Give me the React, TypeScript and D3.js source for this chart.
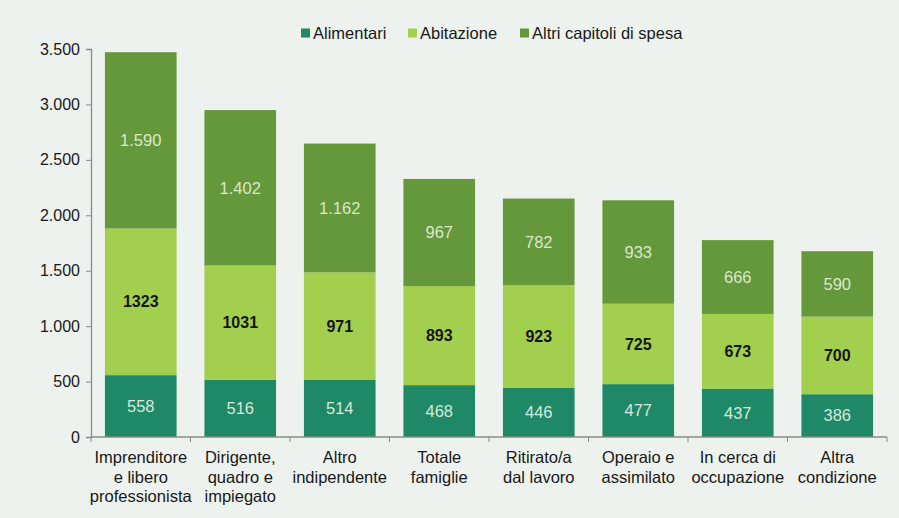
import React, { useEffect, useRef } from "react";
import { select, scaleBand, scaleLinear, stack, axisLeft, format } from "d3";

// categories (x) and series values
const categories = [
  ["Imprenditore", "e libero", "professionista"],
  ["Dirigente,", "quadro e", "impiegato"],
  ["Altro", "indipendente"],
  ["Totale", "famiglie"],
  ["Ritirato/a", "dal lavoro"],
  ["Operaio e", "assimilato"],
  ["In cerca di", "occupazione"],
  ["Altra", "condizione"],
];
const alimentari = [558, 516, 514, 468, 446, 477, 437, 386];
const abitazione = [1323, 1031, 971, 893, 923, 725, 673, 700];
const altri = [1590, 1402, 1162, 967, 782, 933, 666, 590];
const seriesNames = ["Alimentari", "Abitazione", "Altri capitoli di spesa"];
const yTicks = [0, 500, 1000, 1500, 2000, 2500, 3000, 3500];

const colors = ["#1f8866", "#a3cf4e", "#65983a"];
const labelColors = ["#d6e9dc", "#151515", "#dbe7cc"];
const labelWeights = ["normal", "bold", "normal"];
// the chart prints thousands with a dot, but Abitazione values without
const itFmt = (v: number) => format(",.0f")(v).replace(/,/g, ".");
const labelFormats = [itFmt, (v: number) => String(v), itFmt];

const W = 899;
const H = 518;
const FONT = "'Liberation Sans', Arial, sans-serif";

export default function App() {
  const svgRef = useRef<SVGSVGElement>(null);

  useEffect(() => {
    const svg = select(svgRef.current);
    svg.selectAll("*").remove();

    svg.append("rect").attr("width", W).attr("height", H).attr("fill", "#edf2ee");

    const keys = categories.map((c) => c.join(" "));
    const rows = keys.map((k, i) => ({
      key: k,
      a: alimentari[i],
      b: abitazione[i],
      c: altri[i],
    }));

    const x = scaleBand<string>()
      .domain(keys)
      .range([91, 887])
      .paddingInner(0.28)
      .paddingOuter(0.14);
    const y = scaleLinear().domain([0, 3500]).range([437, 49]);

    const layers = stack<any>().keys(["a", "b", "c"])(rows);

    const g = svg.append("g");
    layers.forEach((layer, li) => {
      g.append("g")
        .selectAll("rect")
        .data(layer)
        .join("rect")
        .attr("x", (d: any) => x(d.data.key)!)
        .attr("width", x.bandwidth())
        .attr("y", (d) => y(d[1]))
        .attr("height", (d) => y(d[0]) - y(d[1]))
        .attr("fill", colors[li]);

      g.append("g")
        .selectAll("text")
        .data(layer)
        .join("text")
        .attr("x", (d: any) => x(d.data.key)! + x.bandwidth() / 2)
        .attr("y", (d) => (y(d[0]) + y(d[1])) / 2)
        .attr("dy", "0.35em")
        .attr("text-anchor", "middle")
        .attr("font-family", FONT)
        .attr("font-size", li === 1 ? 16 : 16.5)
        .attr("font-weight", labelWeights[li])
        .attr("fill", labelColors[li])
        .text((d) => labelFormats[li](d[1] - d[0]));
    });

    // y axis
    const yAxis = axisLeft(y)
      .tickValues(yTicks)
      .tickSize(5)
      .tickPadding(6)
      .tickFormat((v) => itFmt(v as number));
    const ya = svg.append("g").attr("transform", "translate(91,0)").call(yAxis);
    ya.select(".domain").attr("stroke", "#878c87").attr("stroke-width", 1.3);
    ya.selectAll(".tick line").attr("stroke", "#878c87");
    ya.selectAll(".tick text")
      .attr("font-family", FONT)
      .attr("font-size", 16)
      .attr("fill", "#181818");

    // x axis line and boundary ticks
    const step = x.step();
    const xa = svg.append("g");
    xa.append("line")
      .attr("x1", 91)
      .attr("x2", 887)
      .attr("y1", y(0))
      .attr("y2", y(0))
      .attr("stroke", "#878c87")
      .attr("stroke-width", 1.3);
    xa.selectAll("line.tk")
      .data(keys.map((_, i) => i).concat([keys.length]))
      .join("line")
      .attr("class", "tk")
      .attr("x1", (i) => 91 + i * step)
      .attr("x2", (i) => 91 + i * step)
      .attr("y1", y(0))
      .attr("y2", y(0) + 5)
      .attr("stroke", "#878c87");

    const lbl = xa
      .selectAll("text.cat")
      .data(categories)
      .join("text")
      .attr("class", "cat")
      .attr("text-anchor", "middle")
      .attr("font-family", FONT)
      .attr("font-size", 16.5)
      .attr("fill", "#181818")
      .attr("transform", (_, i) => `translate(${x(keys[i])! + x.bandwidth() / 2},${y(0) + 26})`);
    lbl
      .selectAll("tspan")
      .data((d) => d)
      .join("tspan")
      .attr("x", 0)
      .attr("y", (_, j) => j * 19.5)
      .text((d) => d);

    // legend
    const legendX = [301, 408, 520];
    const lg = svg.append("g");
    seriesNames.forEach((name, i) => {
      lg.append("rect")
        .attr("x", legendX[i])
        .attr("y", 28.5)
        .attr("width", 9)
        .attr("height", 9)
        .attr("fill", colors[i]);
      lg.append("text")
        .attr("x", legendX[i] + 12)
        .attr("y", 33)
        .attr("dy", "0.35em")
        .attr("font-family", FONT)
        .attr("font-size", 16.5)
        .attr("fill", "#181818")
        .text(name);
    });
  }, []);

  return (
    <svg
      ref={svgRef}
      width={W}
      height={H}
      style={{ position: "absolute", left: 0, top: 0, display: "block" }}
    />
  );
}
